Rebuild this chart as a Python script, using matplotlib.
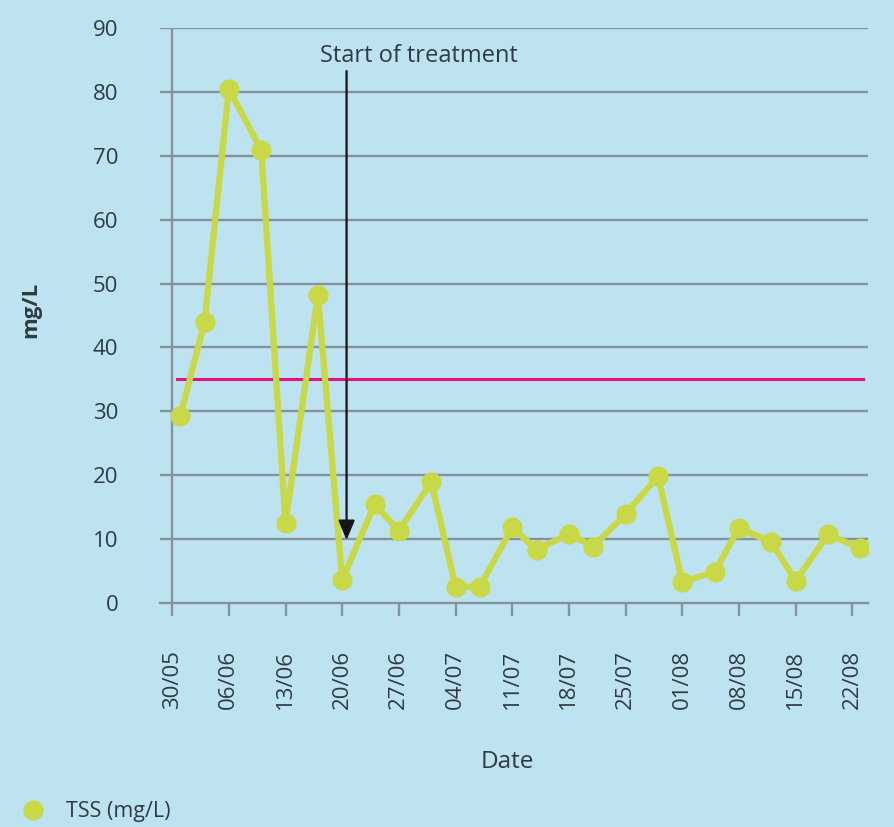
import numpy as np
import matplotlib
matplotlib.use("Agg")
import matplotlib.pyplot as plt
import matplotlib.dates as mdates
from matplotlib.lines import Line2D

plt.rcParams['font.family'] = ['Open Sans', 'DejaVu Sans']

# --- Data ---
dates = ['2011-05-31', '2011-06-03', '2011-06-06', '2011-06-10', '2011-06-13',
         '2011-06-17', '2011-06-20', '2011-06-24', '2011-06-27', '2011-07-01',
         '2011-07-04', '2011-07-07', '2011-07-11', '2011-07-14', '2011-07-18',
         '2011-07-21', '2011-07-25', '2011-07-29', '2011-08-01', '2011-08-05',
         '2011-08-08', '2011-08-12', '2011-08-15', '2011-08-19', '2011-08-23']
tss = [29.2, 44.0, 80.5, 70.9, 12.5, 48.2, 3.6, 15.4, 11.3, 18.9,
       2.5, 2.5, 11.8, 8.3, 10.8, 8.8, 13.9, 19.8, 3.3, 4.8,
       11.7, 9.5, 3.4, 10.7, 8.5]
limit = 35
tick_dates = ['2011-05-30', '2011-06-06', '2011-06-13', '2011-06-20', '2011-06-27',
              '2011-07-04', '2011-07-11', '2011-07-18', '2011-07-25', '2011-08-01',
              '2011-08-08', '2011-08-15', '2011-08-22']
y_ticks = [0, 10, 20, 30, 40, 50, 60, 70, 80, 90]
treatment_start = '2011-06-20T13:00'

# --- Style ---
bg = '#bde3f0'
grid_c = '#86929a'
green = '#c9d846'
pink = '#e2127e'
txt = '#2e3b44'

x = np.array(dates, dtype='datetime64[D]')
ticks = np.array(tick_dates, dtype='datetime64[D]')
t0 = ticks[0]

fig = plt.figure(figsize=(8.94, 8.27), dpi=100, facecolor=bg)
ax = fig.add_axes([160 / 894, 1 - 602.7 / 827, 707.7 / 894, 574.4 / 827])
ax.set_facecolor(bg)

ax.set_xlim(mdates.date2num(t0) - 1.5, mdates.date2num(t0) + 85.9)
ax.set_ylim(0, 90)

# grid
for v in y_ticks[1:]:
    ax.axhline(v, color=grid_c, lw=1.7, zorder=1)
ax.axvline(mdates.date2num(t0), color=grid_c, lw=1.7, zorder=1)

for s in ['left', 'top', 'right']:
    ax.spines[s].set_visible(False)
ax.spines['bottom'].set_color(grid_c)
ax.spines['bottom'].set_linewidth(1.7)

ax.set_xticks(mdates.date2num(ticks))
ax.xaxis.set_major_formatter(mdates.DateFormatter('%d/%m'))
ax.tick_params(axis='x', direction='out', length=9, width=1.7, color=grid_c,
               pad=25, labelsize=16, labelcolor=txt, labelrotation=90)
ax.set_yticks(y_ticks)
ax.tick_params(axis='y', length=0, pad=30, labelsize=16, labelcolor=txt)

# discharge limit
ax.axhline(limit, xmin=0.0236, xmax=0.993, color=pink, lw=2.2, zorder=2)

# TSS series
ax.plot(mdates.date2num(x), tss, color=green, lw=4.5, marker='o', ms=13.5,
        zorder=3, solid_joinstyle='round')

# treatment arrow
xs = mdates.date2num(np.datetime64(treatment_start))
ax.annotate('', xy=(xs, 9.8), xytext=(xs, 83.3),
            arrowprops=dict(arrowstyle='-|>,head_length=1.2,head_width=0.5',
                            color='#151515', lw=1.6, shrinkA=0, shrinkB=0),
            zorder=4)
ax.text(mdates.date2num(t0) + 30.5, 85.7, 'Start of treatment', ha='center',
        va='center', fontsize=17, color=txt)

fig.text(31 / 894, 1 - 310 / 827, 'mg/L', rotation=90, ha='center', va='center',
         fontsize=16, fontweight='bold', color=txt)
fig.text(507 / 894, 1 - 762 / 827, 'Date', ha='center', va='center',
         fontsize=17.5, color=txt)

handle = Line2D([], [], ls='none', marker='o', ms=13.5, color=green)
fig.legend([handle], ['TSS (mg/L)'], loc='center left',
           bbox_to_anchor=(1 / 894, 1 - 812 / 827), frameon=False,
           fontsize=15.5, labelcolor=txt, handletextpad=0.9, handlelength=1.2)

fig.savefig('out.png', dpi=100, facecolor=bg)
